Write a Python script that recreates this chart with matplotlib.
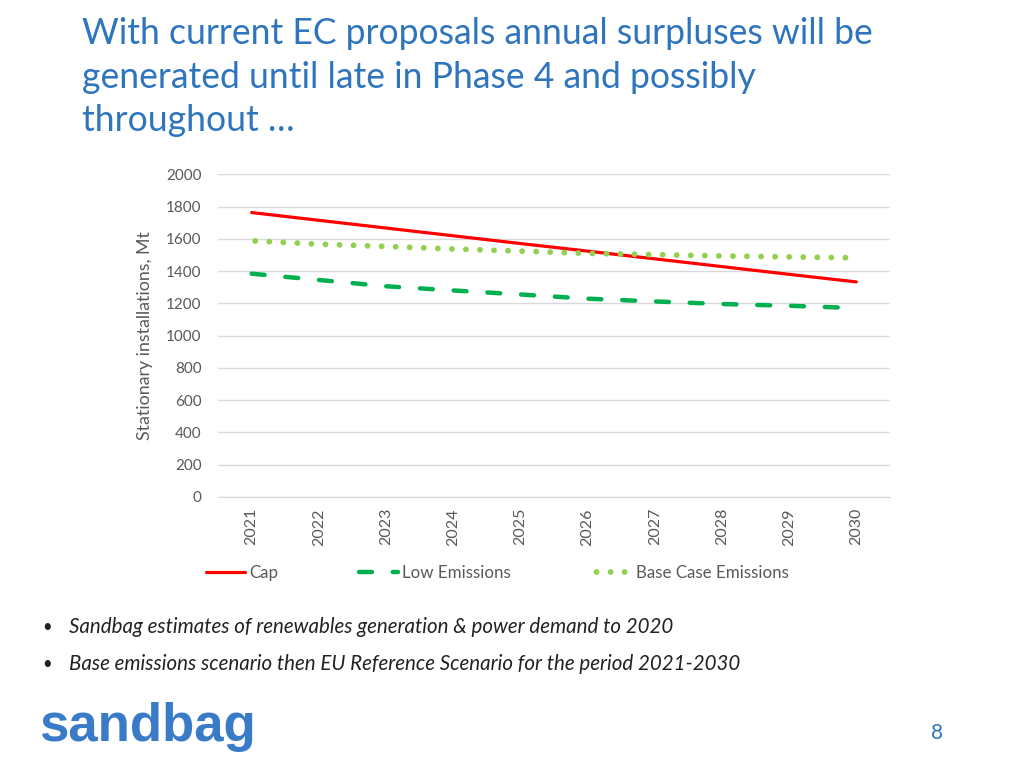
import numpy as np
import matplotlib
matplotlib.use("Agg")
import matplotlib.pyplot as plt

# data (Mt)
years = ["2021", "2022", "2023", "2024", "2025", "2026", "2027", "2028", "2029", "2030"]
cap = [1763, 1715, 1667, 1619, 1571, 1524, 1476, 1428, 1380, 1333]
low_emissions = [1384, 1345, 1306, 1280, 1255, 1229, 1212, 1196, 1185, 1171]
base_case = [1588, 1567, 1553, 1537, 1524, 1510, 1502, 1494, 1488, 1482]

title_lines = ["With current EC proposals annual surpluses will be",
               "generated until late in Phase 4 and possibly",
               "throughout \u2026"]
bullets = ["Sandbag estimates of renewables generation & power demand to 2020",
           "Base emissions scenario then EU Reference Scenario for the period 2021-2030"]

blue = "#2F75BD"
gray = "#595959"

plt.rcParams['font.family'] = ['Lato', 'DejaVu Sans']

fig = plt.figure(figsize=(10.24, 7.68), dpi=100)
fig.patch.set_facecolor("white")

# title, one text per line so the baselines sit where they should
for i, line in enumerate(title_lines):
    fig.text(0.080, 1 - (44 + 43.5 * i) / 768, line, color=blue, fontsize=25.6,
             va="baseline", ha="left")

ax = fig.add_axes([0.213, 0.353, 0.656, 0.42])
x = np.arange(len(years))

ax.plot(x, cap, color="#FF0000", lw=2.3, solid_capstyle="round", label="Cap")
ax.plot(x, low_emissions, color="#00B050", lw=3.2,
        linestyle=(0, (2.9, 4.7)), dash_capstyle="round", label="Low Emissions")
ax.plot(x, base_case, color="#92D050", lw=4.2,
        linestyle=(-0.6, (0.01, 2.4)), dash_capstyle="round", label="Base Case Emissions")

ax.set_xlim(-0.5, len(years) - 0.5)
ax.set_ylim(0, 2000)
ax.set_yticks(np.arange(0, 2001, 200))
ax.set_xticks(x)
ax.set_xticklabels(years, rotation=90)
ax.grid(axis="y", color="#D9D9D9", lw=1)
ax.set_axisbelow(True)
for s in ["top", "right", "left"]:
    ax.spines[s].set_visible(False)
ax.spines["bottom"].set_color("#D9D9D9")
ax.tick_params(axis="both", length=0, colors=gray, labelsize=11)
ax.tick_params(axis="x", pad=8, labelsize=11.5)
ax.tick_params(axis="y", pad=12)
ax.set_ylabel("Stationary installations, Mt", color=gray, fontsize=12.8, labelpad=9)

leg = fig.legend(loc="center left", bbox_to_anchor=(0.186, 0.254), ncol=3,
                 frameon=False, fontsize=12.2, handlelength=2.3,
                 columnspacing=4.8, handletextpad=0.25)
for t in leg.get_texts():
    t.set_color(gray)

# bullets
for i, b in enumerate(bullets):
    yb = 0.183 - i * 0.047
    fig.text(0.041, yb, "\u2022", fontsize=12, color="#222222", va="center")
    fig.text(0.067, yb, b, fontsize=14.8, style="italic", color="#222222", va="center")

# logo and page number
fig.text(0.038, 0.053, "sandbag", family="Liberation Sans", weight="bold",
         fontsize=38, color="#3A7BC8", va="center", ha="left")
fig.text(0.915, 0.046, "8", fontsize=15, color=blue, va="center", ha="center")

fig.savefig("out.png", dpi=100)
